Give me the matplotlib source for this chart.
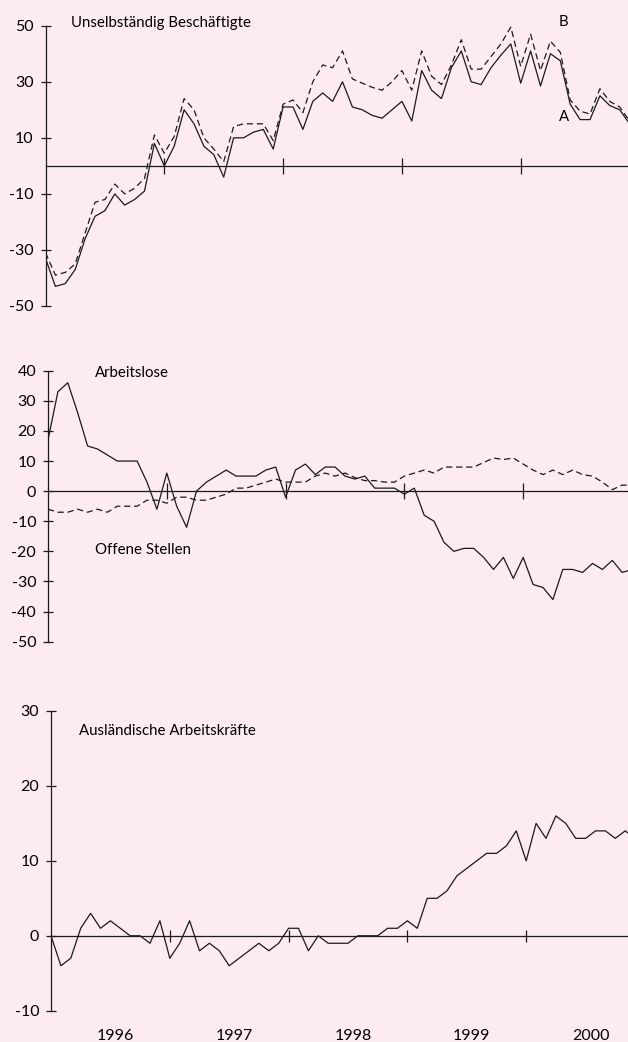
import matplotlib
matplotlib.use("Agg")
import matplotlib.pyplot as plt
from matplotlib.transforms import blended_transform_factory

plt.rcParams['font.family'] = ['Lato', 'DejaVu Sans']

W, H = 628, 1042
BG = '#fcebf1'

# monthly values, Jan 1996 onwards
beschaeftigte_a = [-33, -43, -42, -37, -26, -18, -16, -10, -14, -12, -9, 8, 0, 7, 20, 15, 7, 4, -4, 10,
                   10, 12, 13, 6, 21, 21, 13, 23, 26, 23, 30, 21, 20, 18, 17, 20, 23, 16, 34, 27,
                   24, 35, 41, 30, 29, 35, 39.5, 43.5, 29.5, 41, 28.5, 40, 37.5, 22, 16.5, 16.5, 25, 21.5, 20, 15]
beschaeftigte_b = [-31, -39, -38, -35, -24, -13, -12, -6.5, -10, -8, -4.5, 11, 4.5, 10.5, 24, 20, 10, 6, 1.5, 14,
                   15, 15, 15, 9, 22, 23.5, 19, 30, 36, 35, 41, 31, 29.5, 28, 27, 30, 34, 27, 41, 32,
                   29, 36, 45, 34.5, 34.5, 39, 43.5, 49.5, 35.5, 47, 34, 44.5, 40.5, 23.5, 19.5, 18.5, 27.5, 23, 21, 16]
arbeitslose = [17, 33, 36, 26, 15, 14, 12, 10, 10, 10, 3, -6, 6, -5, -12, 0, 3, 5, 7, 5,
               5, 5, 7, 8, -2, 7, 9, 5.5, 8, 8, 5, 4, 5, 1, 1, 1, -1, 1, -8, -10,
               -17, -20, -19, -19, -22, -26, -22, -29, -22, -31, -32, -36, -26, -26, -27, -24, -26, -23, -27, -26]
offene_stellen = [-6, -7, -7, -6, -7, -6, -7, -5, -5, -5, -3, -3, -4, -2, -2, -3, -3, -2, -1, 1,
                  1, 2, 3, 4, 3, 3, 3, 5, 6, 5, 6, 4.5, 3.5, 3.5, 3, 3, 5, 6, 7, 6,
                  8, 8, 8, 8, 9.5, 11, 10.5, 11, 9, 7, 5.5, 7, 5.5, 7, 5.5, 5, 3, 0.5, 2, 2]
auslaender = [0, -4, -3, 1, 3, 1, 2, 1, 0, 0, -1, 2, -3, -1, 2, -2, -1, -2, -4, -3,
              -2, -1, -2, -1, 1, 1, -2, 0, -1, -1, -1, 0, 0, 0, 1, 1, 2, 1, 5, 5,
              6, 8, 9, 10, 11, 11, 12, 14, 10, 15, 13, 16, 15, 13, 13, 14, 14, 13, 14, 13]

months = list(range(len(beschaeftigte_a)))
years = ['1996', '1997', '1998', '1999', '2000']
year_mid = [6, 18, 30, 42, 54]
year_bounds = [12, 24, 36, 48]

PX_MONTH = 9.9
INK = '#1a1a1a'


def make_axes(fig, x0, ytop, ybot, ylim, yticks, ticklen):
    ax = fig.add_axes([x0 / W, 1 - ybot / H, 1 - x0 / W, (ybot - ytop) / H])
    ax.set_facecolor('none')
    ax.set_xlim(0, (W - x0) / PX_MONTH)
    ax.set_ylim(*ylim)
    for s in ['top', 'right']:
        ax.spines[s].set_visible(False)
    ax.spines['left'].set_linewidth(0.9)
    ax.spines['left'].set_color(INK)
    ax.spines['bottom'].set_position(('data', 0))
    ax.spines['bottom'].set_linewidth(0.9)
    ax.spines['bottom'].set_color(INK)
    ax.set_yticks(yticks)
    ax.set_yticklabels([str(t) for t in yticks])
    ax.tick_params(axis='y', direction='inout', length=7, width=0.9, labelsize=11.5, pad=5, color=INK)
    ax.set_xticks(year_bounds)
    ax.set_xticklabels([])
    ax.tick_params(axis='x', direction='inout', length=ticklen, width=0.9, color=INK)
    return ax


fig = plt.figure(figsize=(W / 100, H / 100), dpi=100, facecolor=BG)

# Panel 1
ax1 = make_axes(fig, 45.5, 25.7, 306, (-50, 50), [50, 30, 10, -10, -30, -50], 12)
ax1.plot(months, beschaeftigte_a, color=INK, lw=0.9)
ax1.plot(months, beschaeftigte_b, color=INK, lw=0.9, linestyle=(0, (5, 3)))
fig.text(71 / W, 1 - 23 / H, 'Unselbständig Beschäftigte', fontsize=10.8, va='center', ha='left')
fig.text(563 / W, 1 - 22 / H, 'B', fontsize=10.8, va='center', ha='center')
fig.text(564 / W, 1 - 117 / H, 'A', fontsize=10.8, va='center', ha='center')

# Panel 2
ax2 = make_axes(fig, 48, 370.7, 641.7, (-50, 40), [40, 30, 20, 10, 0, -10, -20, -30, -40, -50], 12)
ax2.plot(months, arbeitslose, color=INK, lw=0.9)
ax2.plot(months, offene_stellen, color=INK, lw=0.9, linestyle=(0, (5, 3)))
fig.text(95 / W, 1 - 373 / H, 'Arbeitslose', fontsize=10.8, va='center', ha='left')
fig.text(95 / W, 1 - 550 / H, 'Offene Stellen', fontsize=10.8, va='center', ha='left')

# Panel 3
ax3 = make_axes(fig, 51, 711, 1010.7, (-10, 30), [30, 20, 10, 0, -10], 8)
ax3.plot(months, auslaender, color=INK, lw=0.9)
fig.text(79 / W, 1 - 730.7 / H, 'Ausländische Arbeitskräfte', fontsize=10.8, va='center', ha='left')
tr = blended_transform_factory(ax3.transData, fig.transFigure)
for m, y in zip(year_mid, years):
    ax3.text(m + 0.5, 1 - 1029 / H, y, transform=tr, fontsize=11.5, ha='center', va='top')

fig.savefig('out.png', dpi=100, facecolor=BG)
